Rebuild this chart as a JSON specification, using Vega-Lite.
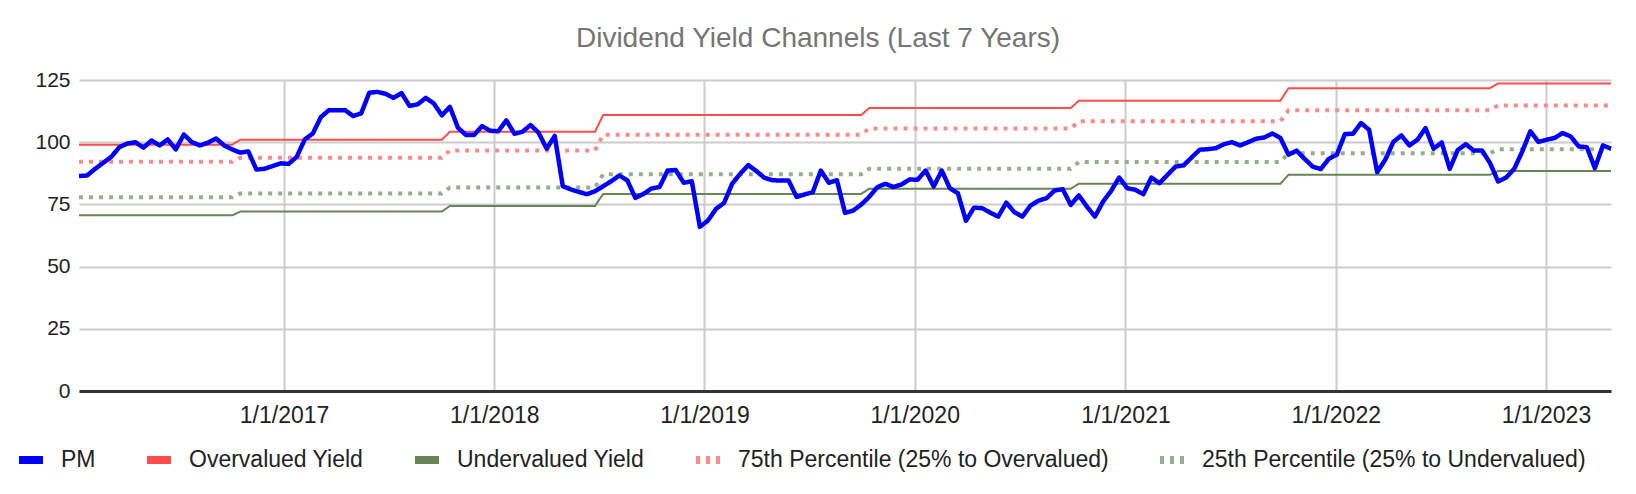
{
  "$schema": "https://vega.github.io/schema/vega-lite/v6.json",
  "width": 1532,
  "height": 311,
  "autosize": {"type": "none"},
  "padding": {"left": 79, "top": 80, "right": 25, "bottom": 103},
  "background": "white",
  "title": {"text": "Dividend Yield Channels (Last 7 Years)", "fontSize": 28, "font": "Liberation Sans", "fontWeight": "normal", "color": "#757575", "anchor": "middle", "dx": -27, "offset": 16},
  "data": {"values": [
    {"d":"2016/01/11","pm":86.4,"ov":99.0,"un":70.6,"p75":92.1,"p25":77.9},
    {"d":"2016/01/25","pm":86.6,"ov":99.0,"un":70.6,"p75":92.1,"p25":77.9},
    {"d":"2016/02/08","pm":89.3,"ov":99.0,"un":70.6,"p75":92.1,"p25":77.9},
    {"d":"2016/02/22","pm":91.7,"ov":99.0,"un":70.6,"p75":92.1,"p25":77.9},
    {"d":"2016/03/07","pm":94.1,"ov":99.0,"un":70.6,"p75":92.1,"p25":77.9},
    {"d":"2016/03/21","pm":98.0,"ov":99.0,"un":70.6,"p75":92.1,"p25":77.9},
    {"d":"2016/04/04","pm":99.5,"ov":99.0,"un":70.6,"p75":92.1,"p25":77.9},
    {"d":"2016/04/18","pm":100.0,"ov":99.0,"un":70.6,"p75":92.1,"p25":77.9},
    {"d":"2016/05/02","pm":97.8,"ov":99.0,"un":70.6,"p75":92.1,"p25":77.9},
    {"d":"2016/05/16","pm":100.7,"ov":99.0,"un":70.6,"p75":92.1,"p25":77.9},
    {"d":"2016/05/30","pm":98.7,"ov":99.0,"un":70.6,"p75":92.1,"p25":77.9},
    {"d":"2016/06/13","pm":101.1,"ov":99.0,"un":70.6,"p75":92.1,"p25":77.9},
    {"d":"2016/06/27","pm":97.1,"ov":99.0,"un":70.6,"p75":92.1,"p25":77.9},
    {"d":"2016/07/11","pm":103.1,"ov":99.0,"un":70.6,"p75":92.1,"p25":77.9},
    {"d":"2016/07/25","pm":100.0,"ov":99.0,"un":70.6,"p75":92.1,"p25":77.9},
    {"d":"2016/08/08","pm":98.7,"ov":99.0,"un":70.6,"p75":92.1,"p25":77.9},
    {"d":"2016/08/22","pm":99.8,"ov":99.0,"un":70.6,"p75":92.1,"p25":77.9},
    {"d":"2016/09/05","pm":101.5,"ov":99.0,"un":70.6,"p75":92.1,"p25":77.9},
    {"d":"2016/09/19","pm":98.7,"ov":99.0,"un":70.6,"p75":92.1,"p25":77.9},
    {"d":"2016/10/03","pm":97.1,"ov":99.0,"un":70.6,"p75":92.1,"p25":77.9},
    {"d":"2016/10/17","pm":95.8,"ov":101.0,"un":72.1,"p75":93.8,"p25":79.4},
    {"d":"2016/10/31","pm":96.3,"ov":101.0,"un":72.1,"p75":93.8,"p25":79.4},
    {"d":"2016/11/14","pm":89.0,"ov":101.0,"un":72.1,"p75":93.8,"p25":79.4},
    {"d":"2016/11/28","pm":89.3,"ov":101.0,"un":72.1,"p75":93.8,"p25":79.4},
    {"d":"2016/12/12","pm":90.4,"ov":101.0,"un":72.1,"p75":93.8,"p25":79.4},
    {"d":"2016/12/26","pm":91.5,"ov":101.0,"un":72.1,"p75":93.8,"p25":79.4},
    {"d":"2017/01/09","pm":91.3,"ov":101.0,"un":72.1,"p75":93.8,"p25":79.4},
    {"d":"2017/01/23","pm":94.1,"ov":101.0,"un":72.1,"p75":93.8,"p25":79.4},
    {"d":"2017/02/06","pm":101.1,"ov":101.0,"un":72.1,"p75":93.8,"p25":79.4},
    {"d":"2017/02/20","pm":103.5,"ov":101.0,"un":72.1,"p75":93.8,"p25":79.4},
    {"d":"2017/03/06","pm":110.1,"ov":101.0,"un":72.1,"p75":93.8,"p25":79.4},
    {"d":"2017/03/20","pm":112.9,"ov":101.0,"un":72.1,"p75":93.8,"p25":79.4},
    {"d":"2017/04/03","pm":112.8,"ov":101.0,"un":72.1,"p75":93.8,"p25":79.4},
    {"d":"2017/04/17","pm":112.9,"ov":101.0,"un":72.1,"p75":93.8,"p25":79.4},
    {"d":"2017/05/01","pm":110.5,"ov":101.0,"un":72.1,"p75":93.8,"p25":79.4},
    {"d":"2017/05/15","pm":111.6,"ov":101.0,"un":72.1,"p75":93.8,"p25":79.4},
    {"d":"2017/05/29","pm":119.9,"ov":101.0,"un":72.1,"p75":93.8,"p25":79.4},
    {"d":"2017/06/12","pm":120.2,"ov":101.0,"un":72.1,"p75":93.8,"p25":79.4},
    {"d":"2017/06/26","pm":119.5,"ov":101.0,"un":72.1,"p75":93.8,"p25":79.4},
    {"d":"2017/07/10","pm":117.8,"ov":101.0,"un":72.1,"p75":93.8,"p25":79.4},
    {"d":"2017/07/24","pm":119.7,"ov":101.0,"un":72.1,"p75":93.8,"p25":79.4},
    {"d":"2017/08/07","pm":114.6,"ov":101.0,"un":72.1,"p75":93.8,"p25":79.4},
    {"d":"2017/08/21","pm":115.2,"ov":101.0,"un":72.1,"p75":93.8,"p25":79.4},
    {"d":"2017/09/04","pm":117.8,"ov":101.0,"un":72.1,"p75":93.8,"p25":79.4},
    {"d":"2017/09/18","pm":115.6,"ov":101.0,"un":72.1,"p75":93.8,"p25":79.4},
    {"d":"2017/10/02","pm":110.8,"ov":101.0,"un":72.1,"p75":93.8,"p25":79.4},
    {"d":"2017/10/16","pm":114.2,"ov":104.2,"un":74.4,"p75":96.7,"p25":81.8},
    {"d":"2017/10/30","pm":105.8,"ov":104.2,"un":74.4,"p75":96.7,"p25":81.8},
    {"d":"2017/11/13","pm":102.9,"ov":104.2,"un":74.4,"p75":96.7,"p25":81.8},
    {"d":"2017/11/27","pm":102.9,"ov":104.2,"un":74.4,"p75":96.7,"p25":81.8},
    {"d":"2017/12/11","pm":106.5,"ov":104.2,"un":74.4,"p75":96.7,"p25":81.8},
    {"d":"2017/12/25","pm":104.6,"ov":104.2,"un":74.4,"p75":96.7,"p25":81.8},
    {"d":"2018/01/08","pm":104.4,"ov":104.2,"un":74.4,"p75":96.7,"p25":81.8},
    {"d":"2018/01/22","pm":108.8,"ov":104.2,"un":74.4,"p75":96.7,"p25":81.8},
    {"d":"2018/02/05","pm":103.4,"ov":104.2,"un":74.4,"p75":96.7,"p25":81.8},
    {"d":"2018/02/19","pm":104.2,"ov":104.2,"un":74.4,"p75":96.7,"p25":81.8},
    {"d":"2018/03/05","pm":106.9,"ov":104.2,"un":74.4,"p75":96.7,"p25":81.8},
    {"d":"2018/03/19","pm":103.8,"ov":104.2,"un":74.4,"p75":96.7,"p25":81.8},
    {"d":"2018/04/02","pm":97.4,"ov":104.2,"un":74.4,"p75":96.7,"p25":81.8},
    {"d":"2018/04/16","pm":102.5,"ov":104.2,"un":74.4,"p75":96.7,"p25":81.8},
    {"d":"2018/04/30","pm":82.3,"ov":104.2,"un":74.4,"p75":96.7,"p25":81.8},
    {"d":"2018/05/14","pm":81.0,"ov":104.2,"un":74.4,"p75":96.7,"p25":81.8},
    {"d":"2018/05/28","pm":80.0,"ov":104.2,"un":74.4,"p75":96.7,"p25":81.8},
    {"d":"2018/06/11","pm":79.1,"ov":104.2,"un":74.4,"p75":96.7,"p25":81.8},
    {"d":"2018/06/25","pm":80.3,"ov":104.2,"un":74.4,"p75":96.7,"p25":81.8},
    {"d":"2018/07/09","pm":82.3,"ov":110.9,"un":79.2,"p75":103.0,"p25":87.1},
    {"d":"2018/07/23","pm":84.3,"ov":110.9,"un":79.2,"p75":103.0,"p25":87.1},
    {"d":"2018/08/06","pm":86.6,"ov":110.9,"un":79.2,"p75":103.0,"p25":87.1},
    {"d":"2018/08/20","pm":84.7,"ov":110.9,"un":79.2,"p75":103.0,"p25":87.1},
    {"d":"2018/09/03","pm":77.6,"ov":110.9,"un":79.2,"p75":103.0,"p25":87.1},
    {"d":"2018/09/17","pm":79.2,"ov":110.9,"un":79.2,"p75":103.0,"p25":87.1},
    {"d":"2018/10/01","pm":81.4,"ov":110.9,"un":79.2,"p75":103.0,"p25":87.1},
    {"d":"2018/10/15","pm":82.0,"ov":110.9,"un":79.2,"p75":103.0,"p25":87.1},
    {"d":"2018/10/29","pm":88.6,"ov":110.9,"un":79.2,"p75":103.0,"p25":87.1},
    {"d":"2018/11/12","pm":88.8,"ov":110.9,"un":79.2,"p75":103.0,"p25":87.1},
    {"d":"2018/11/26","pm":83.7,"ov":110.9,"un":79.2,"p75":103.0,"p25":87.1},
    {"d":"2018/12/10","pm":84.3,"ov":110.9,"un":79.2,"p75":103.0,"p25":87.1},
    {"d":"2018/12/24","pm":66.0,"ov":110.9,"un":79.2,"p75":103.0,"p25":87.1},
    {"d":"2019/01/07","pm":68.5,"ov":110.9,"un":79.2,"p75":103.0,"p25":87.1},
    {"d":"2019/01/21","pm":73.2,"ov":110.9,"un":79.2,"p75":103.0,"p25":87.1},
    {"d":"2019/02/04","pm":75.6,"ov":110.9,"un":79.2,"p75":103.0,"p25":87.1},
    {"d":"2019/02/18","pm":83.3,"ov":110.9,"un":79.2,"p75":103.0,"p25":87.1},
    {"d":"2019/03/04","pm":87.3,"ov":110.9,"un":79.2,"p75":103.0,"p25":87.1},
    {"d":"2019/03/18","pm":90.8,"ov":110.9,"un":79.2,"p75":103.0,"p25":87.1},
    {"d":"2019/04/01","pm":88.4,"ov":110.9,"un":79.2,"p75":103.0,"p25":87.1},
    {"d":"2019/04/15","pm":85.7,"ov":110.9,"un":79.2,"p75":103.0,"p25":87.1},
    {"d":"2019/04/29","pm":84.7,"ov":110.9,"un":79.2,"p75":103.0,"p25":87.1},
    {"d":"2019/05/13","pm":84.6,"ov":110.9,"un":79.2,"p75":103.0,"p25":87.1},
    {"d":"2019/05/27","pm":84.6,"ov":110.9,"un":79.2,"p75":103.0,"p25":87.1},
    {"d":"2019/06/10","pm":78.0,"ov":110.9,"un":79.2,"p75":103.0,"p25":87.1},
    {"d":"2019/06/24","pm":79.0,"ov":110.9,"un":79.2,"p75":103.0,"p25":87.1},
    {"d":"2019/07/08","pm":79.9,"ov":110.9,"un":79.2,"p75":103.0,"p25":87.1},
    {"d":"2019/07/22","pm":88.6,"ov":110.9,"un":79.2,"p75":103.0,"p25":87.1},
    {"d":"2019/08/05","pm":83.7,"ov":110.9,"un":79.2,"p75":103.0,"p25":87.1},
    {"d":"2019/08/19","pm":84.7,"ov":110.9,"un":79.2,"p75":103.0,"p25":87.1},
    {"d":"2019/09/02","pm":71.6,"ov":110.9,"un":79.2,"p75":103.0,"p25":87.1},
    {"d":"2019/09/16","pm":72.5,"ov":110.9,"un":79.2,"p75":103.0,"p25":87.1},
    {"d":"2019/09/30","pm":74.9,"ov":110.9,"un":79.2,"p75":103.0,"p25":87.1},
    {"d":"2019/10/14","pm":78.0,"ov":113.7,"un":81.3,"p75":105.5,"p25":89.3},
    {"d":"2019/10/28","pm":81.9,"ov":113.7,"un":81.3,"p75":105.5,"p25":89.3},
    {"d":"2019/11/11","pm":83.3,"ov":113.7,"un":81.3,"p75":105.5,"p25":89.3},
    {"d":"2019/11/25","pm":82.0,"ov":113.7,"un":81.3,"p75":105.5,"p25":89.3},
    {"d":"2019/12/09","pm":83.0,"ov":113.7,"un":81.3,"p75":105.5,"p25":89.3},
    {"d":"2019/12/23","pm":85.0,"ov":113.7,"un":81.3,"p75":105.5,"p25":89.3},
    {"d":"2020/01/06","pm":84.9,"ov":113.7,"un":81.3,"p75":105.5,"p25":89.3},
    {"d":"2020/01/20","pm":88.6,"ov":113.7,"un":81.3,"p75":105.5,"p25":89.3},
    {"d":"2020/02/03","pm":82.2,"ov":113.7,"un":81.3,"p75":105.5,"p25":89.3},
    {"d":"2020/02/17","pm":88.6,"ov":113.7,"un":81.3,"p75":105.5,"p25":89.3},
    {"d":"2020/03/02","pm":81.5,"ov":113.7,"un":81.3,"p75":105.5,"p25":89.3},
    {"d":"2020/03/16","pm":79.5,"ov":113.7,"un":81.3,"p75":105.5,"p25":89.3},
    {"d":"2020/03/30","pm":68.4,"ov":113.7,"un":81.3,"p75":105.5,"p25":89.3},
    {"d":"2020/04/13","pm":73.7,"ov":113.7,"un":81.3,"p75":105.5,"p25":89.3},
    {"d":"2020/04/27","pm":73.5,"ov":113.7,"un":81.3,"p75":105.5,"p25":89.3},
    {"d":"2020/05/11","pm":71.7,"ov":113.7,"un":81.3,"p75":105.5,"p25":89.3},
    {"d":"2020/05/25","pm":70.1,"ov":113.7,"un":81.3,"p75":105.5,"p25":89.3},
    {"d":"2020/06/08","pm":75.7,"ov":113.7,"un":81.3,"p75":105.5,"p25":89.3},
    {"d":"2020/06/22","pm":71.9,"ov":113.7,"un":81.3,"p75":105.5,"p25":89.3},
    {"d":"2020/07/06","pm":70.1,"ov":113.7,"un":81.3,"p75":105.5,"p25":89.3},
    {"d":"2020/07/20","pm":74.5,"ov":113.7,"un":81.3,"p75":105.5,"p25":89.3},
    {"d":"2020/08/03","pm":76.5,"ov":113.7,"un":81.3,"p75":105.5,"p25":89.3},
    {"d":"2020/08/17","pm":77.5,"ov":113.7,"un":81.3,"p75":105.5,"p25":89.3},
    {"d":"2020/08/31","pm":80.6,"ov":113.7,"un":81.3,"p75":105.5,"p25":89.3},
    {"d":"2020/09/14","pm":81.1,"ov":113.7,"un":81.3,"p75":105.5,"p25":89.3},
    {"d":"2020/09/28","pm":74.8,"ov":113.7,"un":81.3,"p75":105.5,"p25":89.3},
    {"d":"2020/10/12","pm":78.6,"ov":116.7,"un":83.3,"p75":108.4,"p25":92.0},
    {"d":"2020/10/26","pm":74.1,"ov":116.7,"un":83.3,"p75":108.4,"p25":92.0},
    {"d":"2020/11/09","pm":70.1,"ov":116.7,"un":83.3,"p75":108.4,"p25":92.0},
    {"d":"2020/11/23","pm":76.1,"ov":116.7,"un":83.3,"p75":108.4,"p25":92.0},
    {"d":"2020/12/07","pm":80.4,"ov":116.7,"un":83.3,"p75":108.4,"p25":92.0},
    {"d":"2020/12/21","pm":85.8,"ov":116.7,"un":83.3,"p75":108.4,"p25":92.0},
    {"d":"2021/01/04","pm":81.5,"ov":116.7,"un":83.3,"p75":108.4,"p25":92.0},
    {"d":"2021/01/18","pm":80.9,"ov":116.7,"un":83.3,"p75":108.4,"p25":92.0},
    {"d":"2021/02/01","pm":79.1,"ov":116.7,"un":83.3,"p75":108.4,"p25":92.0},
    {"d":"2021/02/15","pm":85.8,"ov":116.7,"un":83.3,"p75":108.4,"p25":92.0},
    {"d":"2021/03/01","pm":83.5,"ov":116.7,"un":83.3,"p75":108.4,"p25":92.0},
    {"d":"2021/03/15","pm":86.9,"ov":116.7,"un":83.3,"p75":108.4,"p25":92.0},
    {"d":"2021/03/29","pm":90.2,"ov":116.7,"un":83.3,"p75":108.4,"p25":92.0},
    {"d":"2021/04/12","pm":90.7,"ov":116.7,"un":83.3,"p75":108.4,"p25":92.0},
    {"d":"2021/04/26","pm":93.9,"ov":116.7,"un":83.3,"p75":108.4,"p25":92.0},
    {"d":"2021/05/10","pm":97.0,"ov":116.7,"un":83.3,"p75":108.4,"p25":92.0},
    {"d":"2021/05/24","pm":97.2,"ov":116.7,"un":83.3,"p75":108.4,"p25":92.0},
    {"d":"2021/06/07","pm":97.6,"ov":116.7,"un":83.3,"p75":108.4,"p25":92.0},
    {"d":"2021/06/21","pm":99.2,"ov":116.7,"un":83.3,"p75":108.4,"p25":92.0},
    {"d":"2021/07/05","pm":100.0,"ov":116.7,"un":83.3,"p75":108.4,"p25":92.0},
    {"d":"2021/07/19","pm":98.7,"ov":116.7,"un":83.3,"p75":108.4,"p25":92.0},
    {"d":"2021/08/02","pm":100.0,"ov":116.7,"un":83.3,"p75":108.4,"p25":92.0},
    {"d":"2021/08/16","pm":101.4,"ov":116.7,"un":83.3,"p75":108.4,"p25":92.0},
    {"d":"2021/08/30","pm":101.9,"ov":116.7,"un":83.3,"p75":108.4,"p25":92.0},
    {"d":"2021/09/13","pm":103.5,"ov":116.7,"un":83.3,"p75":108.4,"p25":92.0},
    {"d":"2021/09/27","pm":101.7,"ov":116.7,"un":83.3,"p75":108.4,"p25":92.0},
    {"d":"2021/10/11","pm":95.0,"ov":121.7,"un":86.9,"p75":112.8,"p25":95.6},
    {"d":"2021/10/25","pm":96.6,"ov":121.7,"un":86.9,"p75":112.8,"p25":95.6},
    {"d":"2021/11/08","pm":93.3,"ov":121.7,"un":86.9,"p75":112.8,"p25":95.6},
    {"d":"2021/11/22","pm":90.2,"ov":121.7,"un":86.9,"p75":112.8,"p25":95.6},
    {"d":"2021/12/06","pm":89.2,"ov":121.7,"un":86.9,"p75":112.8,"p25":95.6},
    {"d":"2021/12/20","pm":93.3,"ov":121.7,"un":86.9,"p75":112.8,"p25":95.6},
    {"d":"2022/01/03","pm":95.0,"ov":121.7,"un":86.9,"p75":112.8,"p25":95.6},
    {"d":"2022/01/17","pm":103.3,"ov":121.7,"un":86.9,"p75":112.8,"p25":95.6},
    {"d":"2022/01/31","pm":103.4,"ov":121.7,"un":86.9,"p75":112.8,"p25":95.6},
    {"d":"2022/02/14","pm":107.7,"ov":121.7,"un":86.9,"p75":112.8,"p25":95.6},
    {"d":"2022/02/28","pm":105.0,"ov":121.7,"un":86.9,"p75":112.8,"p25":95.6},
    {"d":"2022/03/14","pm":88.0,"ov":121.7,"un":86.9,"p75":112.8,"p25":95.6},
    {"d":"2022/03/28","pm":92.9,"ov":121.7,"un":86.9,"p75":112.8,"p25":95.6},
    {"d":"2022/04/11","pm":100.1,"ov":121.7,"un":86.9,"p75":112.8,"p25":95.6},
    {"d":"2022/04/25","pm":102.7,"ov":121.7,"un":86.9,"p75":112.8,"p25":95.6},
    {"d":"2022/05/09","pm":98.7,"ov":121.7,"un":86.9,"p75":112.8,"p25":95.6},
    {"d":"2022/05/23","pm":101.0,"ov":121.7,"un":86.9,"p75":112.8,"p25":95.6},
    {"d":"2022/06/06","pm":105.7,"ov":121.7,"un":86.9,"p75":112.8,"p25":95.6},
    {"d":"2022/06/20","pm":97.4,"ov":121.7,"un":86.9,"p75":112.8,"p25":95.6},
    {"d":"2022/07/04","pm":99.9,"ov":121.7,"un":86.9,"p75":112.8,"p25":95.6},
    {"d":"2022/07/18","pm":89.3,"ov":121.7,"un":86.9,"p75":112.8,"p25":95.6},
    {"d":"2022/08/01","pm":96.9,"ov":121.7,"un":86.9,"p75":112.8,"p25":95.6},
    {"d":"2022/08/15","pm":99.2,"ov":121.7,"un":86.9,"p75":112.8,"p25":95.6},
    {"d":"2022/08/29","pm":96.6,"ov":121.7,"un":86.9,"p75":112.8,"p25":95.6},
    {"d":"2022/09/12","pm":96.7,"ov":121.7,"un":86.9,"p75":112.8,"p25":95.6},
    {"d":"2022/09/26","pm":91.6,"ov":121.7,"un":86.9,"p75":112.8,"p25":95.6},
    {"d":"2022/10/10","pm":84.2,"ov":123.6,"un":88.4,"p75":114.8,"p25":97.2},
    {"d":"2022/10/24","pm":85.8,"ov":123.6,"un":88.4,"p75":114.8,"p25":97.2},
    {"d":"2022/11/07","pm":89.3,"ov":123.6,"un":88.4,"p75":114.8,"p25":97.2},
    {"d":"2022/11/21","pm":96.3,"ov":123.6,"un":88.4,"p75":114.8,"p25":97.2},
    {"d":"2022/12/05","pm":104.4,"ov":123.6,"un":88.4,"p75":114.8,"p25":97.2},
    {"d":"2022/12/19","pm":100.1,"ov":123.6,"un":88.4,"p75":114.8,"p25":97.2},
    {"d":"2023/01/02","pm":101.0,"ov":123.6,"un":88.4,"p75":114.8,"p25":97.2},
    {"d":"2023/01/16","pm":101.7,"ov":123.6,"un":88.4,"p75":114.8,"p25":97.2},
    {"d":"2023/01/30","pm":103.7,"ov":123.6,"un":88.4,"p75":114.8,"p25":97.2},
    {"d":"2023/02/13","pm":102.3,"ov":123.6,"un":88.4,"p75":114.8,"p25":97.2},
    {"d":"2023/02/27","pm":98.3,"ov":123.6,"un":88.4,"p75":114.8,"p25":97.2},
    {"d":"2023/03/13","pm":98.0,"ov":123.6,"un":88.4,"p75":114.8,"p25":97.2},
    {"d":"2023/03/27","pm":89.6,"ov":123.6,"un":88.4,"p75":114.8,"p25":97.2},
    {"d":"2023/04/10","pm":98.7,"ov":123.6,"un":88.4,"p75":114.8,"p25":97.2},
    {"d":"2023/04/24","pm":97.4,"ov":123.6,"un":88.4,"p75":114.8,"p25":97.2}
  ]},
  "transform": [{"fold": ["pm", "ov", "un", "p75", "p25"], "as": ["series", "value"]}],
  "encoding": {
    "x": {
      "field": "d", "type": "temporal",
      "scale": {"domain": [{"year": 2016, "month": 1, "date": 11}, {"year": 2023, "month": 4, "date": 24}]},
      "axis": {
        "title": null,
        "values": [{"year": 2017, "month": 1, "date": 1}, {"year": 2018, "month": 1, "date": 1}, {"year": 2019, "month": 1, "date": 1}, {"year": 2020, "month": 1, "date": 1}, {"year": 2021, "month": 1, "date": 1}, {"year": 2022, "month": 1, "date": 1}, {"year": 2023, "month": 1, "date": 1}],
        "format": "%-m/%-d/%Y",
        "labelFont": "Liberation Sans", "labelFontSize": 23, "labelColor": "#222222",
        "labelPadding": 13, "labelFlush": false, "labelOverlap": false,
        "ticks": false,
        "grid": true, "gridColor": "#cccccc", "gridWidth": 2,
        "domain": true, "domainColor": "#333333", "domainWidth": 3
      }
    },
    "y": {
      "field": "value", "type": "quantitative",
      "scale": {"domain": [0, 125], "nice": false},
      "axis": {
        "title": null,
        "values": [0, 25, 50, 75, 100, 125],
        "labelFont": "Liberation Sans", "labelFontSize": 21, "labelColor": "#222222",
        "labelPadding": 9,
        "ticks": false, "domain": false,
        "grid": true, "gridColor": "#cccccc", "gridWidth": 2
      }
    },
    "color": {
      "field": "series", "type": "nominal",
      "scale": {"domain": ["pm", "ov", "un", "p75", "p25"], "range": ["#0000ff", "#ff4d4d", "#678556", "#ff8a8a", "#98ac8e"]},
      "legend": {
        "title": null,
        "labelExpr": "{'pm':'PM','ov':'Overvalued Yield','un':'Undervalued Yield','p75':'75th Percentile (25% to Overvalued)','p25':'25th Percentile (25% to Undervalued)'}[datum.label]",
        "encode": {"symbols": {"update": {"strokeDash": {"signal": "datum.value == 'p75' || datum.value == 'p25' ? [8, 8] : [1, 0]"}}}}
      }
    },
    "strokeDash": {
      "field": "series", "type": "nominal",
      "scale": {"domain": ["pm", "ov", "un", "p75", "p25"], "range": [[1, 0], [1, 0], [1, 0], [4, 6], [4, 6]]},
      "legend": {
        "title": null,
        "labelExpr": "{'pm':'PM','ov':'Overvalued Yield','un':'Undervalued Yield','p75':'75th Percentile (25% to Overvalued)','p25':'25th Percentile (25% to Undervalued)'}[datum.label]",
        "encode": {"symbols": {"update": {"strokeDash": {"signal": "datum.value == 'p75' || datum.value == 'p25' ? [8, 8] : [1, 0]"}}}}
      }
    }
  },
  "layer": [
    {"transform": [{"filter": "datum.series == 'ov' || datum.series == 'un'"}], "mark": {"type": "line", "strokeWidth": 2}},
    {"transform": [{"filter": "datum.series == 'p75' || datum.series == 'p25'"}], "mark": {"type": "line", "strokeWidth": 4}},
    {"transform": [{"filter": "datum.series == 'pm'"}], "mark": {"type": "line", "strokeWidth": 4.5, "strokeJoin": "round"}}
  ],
  "config": {
    "view": {"stroke": null},
    "legend": {
      "orient": "none", "legendX": -64, "legendY": 364,
      "direction": "horizontal",
      "symbolType": "stroke", "symbolSize": 576, "symbolStrokeWidth": 8,
      "labelFont": "Liberation Sans", "labelFontSize": 23, "labelColor": "#222222", "labelLimit": 0,
      "labelOffset": 14, "columnPadding": 35, "padding": 0
    }
  }
}
